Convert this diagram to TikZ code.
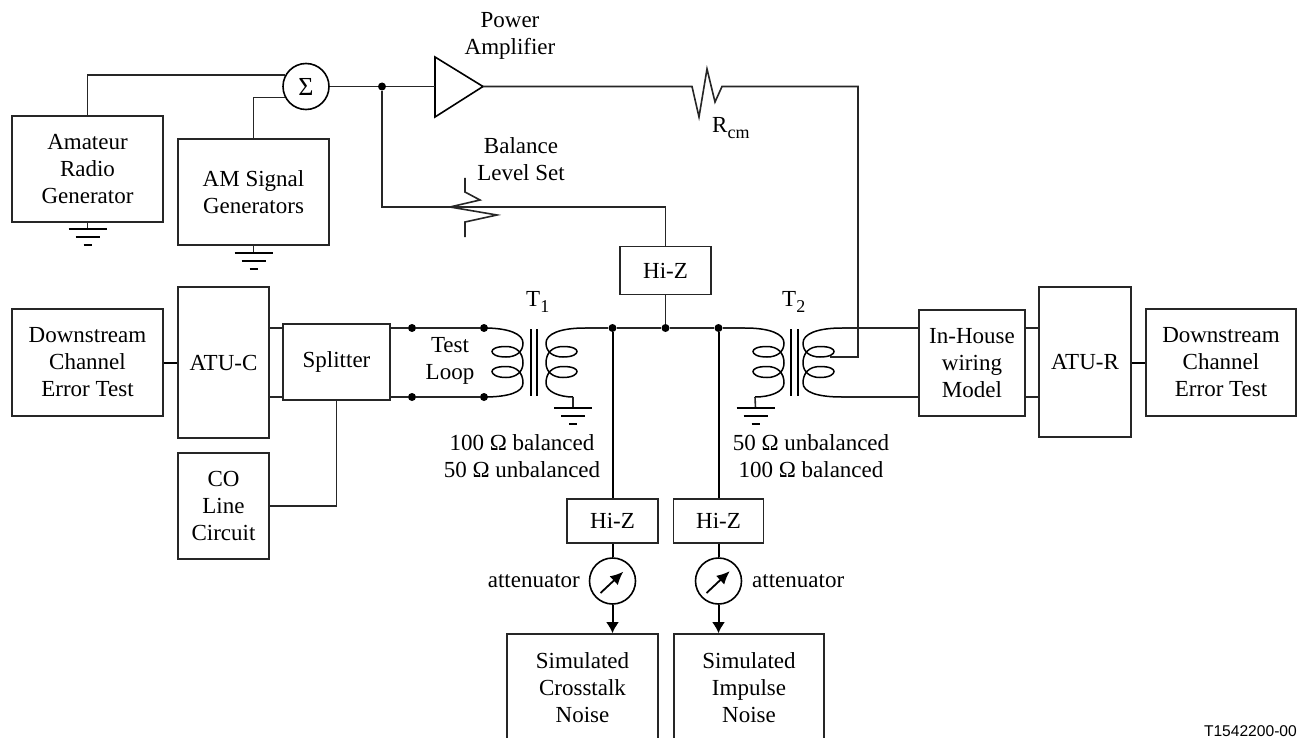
\documentclass[tikz,border=0pt]{standalone}
\usepackage{fontspec}
\setmainfont{Liberation Serif}
\newfontfamily\tagfont{Liberation Sans}
\usetikzlibrary{arrows.meta,calc}
\newcommand{\lowsub}[1]{\raisebox{-6pt}{\fontsize{18}{18}\selectfont #1}}
\tikzset{
  wire/.style={line width=1.6pt,draw=black!85},
  thickwire/.style={line width=2pt,draw=black},
  box/.style n args={2}{draw=black!85,line width=1.6pt,minimum width=#1,minimum height=#2,inner sep=0pt,align=center,anchor=center},
  lbl/.style={inner sep=0pt,align=center},
  dotn/.style={circle,fill=black,inner sep=0pt,minimum size=8pt},
  dial/.style={circle,draw=black,line width=1.6pt,inner sep=0pt,minimum size=46pt},
  pics/gnd/.style={code={
    \draw[line width=2pt] (-19,0) -- (19,0);
    \draw[line width=2pt] (-12,8) -- (12,8);
    \draw[line width=2pt] (-4,15.5) -- (4,15.5);
  }},
  pics/coil/.style={code={
    \draw[line width=1.5pt] (0,0) .. controls (25,0) and (39,6) .. (39,15)
      .. controls (39,24) and (32,29) .. (22,29)
      .. controls (12,29) and (8,26) .. (8,23.5)
      .. controls (8,21) and (12,18.5) .. (22,18.5)
      .. controls (33,18.5) and (39,25) .. (39,35)
      .. controls (39,44) and (32,49.5) .. (22,49.5)
      .. controls (12,49.5) and (8,46) .. (8,43.5)
      .. controls (8,41) and (12,38.5) .. (22,38.5)
      .. controls (33,38.5) and (39,45) .. (39,55)
      .. controls (39,64) and (25,69) .. (#1,69);
  }}
}
\begin{document}
\begin{tikzpicture}[x=1pt,y=-1pt,font=\fontsize{23}{27}\selectfont]
\useasboundingbox (0,0) rectangle (1297,738);
\clip (0,0) rectangle (1297,738);
\fill[white] (0,0) rectangle (1297,738);

% boxes
\node[box={151pt}{106pt}] (amateur) at (87.5,169) {Amateur\\Radio\\Generator};
\node[box={151pt}{106pt}] (am) at (253.5,192) {AM Signal\\Generators};
\node[box={151pt}{107pt}] (dsl) at (87.5,362.5) {Downstream\\Channel\\Error Test};
\node[box={91pt}{151pt}] (atuc) at (223.5,362.5) {ATU-C};
\node[box={107pt}{76pt}] (split) at (336.5,362) {Splitter};
\node[box={91pt}{106pt}] (co) at (223.5,506) {CO\\Line\\Circuit};
\node[box={91pt}{48pt}] (hiz) at (665.5,270.5) {Hi-Z};
\node[box={91pt}{44pt}] (hizl) at (612.5,521) {Hi-Z};
\node[box={90pt}{44pt}] (hizr) at (718.5,521) {Hi-Z};
\node[box={151pt}{108pt}] (simc) at (582.5,688) {Simulated\\Crosstalk\\Noise};
\node[box={150pt}{108pt}] (simi) at (749,688) {Simulated\\Impulse\\Noise};
\node[box={106pt}{106pt}] (inh) at (972,363) {In-House\\wiring\\Model};
\node[box={92pt}{150pt}] (atur) at (1085,362) {ATU-R};
\node[box={150pt}{107pt}] (dsr) at (1221,362.5) {Downstream\\Channel\\Error Test};

% summer, dials
\node[dial,font=\fontsize{26}{26}\selectfont] (sum) at (306,86.5) {Σ};
\node[dial] (dl) at (612.5,581) {};
\node[dial] (dr) at (718.5,581) {};

% amplifier
\coordinate (ampA) at (435,57);
\coordinate (ampB) at (435,117);
\coordinate (amptip) at (483,86.5);
\draw[wire,line join=miter,draw=black] (ampA) -- (amptip) -- (ampB) -- cycle;
\coordinate (ampin) at (435,86.5);

% dots
\node[dotn] (jsum) at (382,86.5) {};
\node[dotn] (d1) at (412,328) {};
\node[dotn] (d2) at (484,328) {};
\node[dotn] (d3) at (412,397) {};
\node[dotn] (d4) at (484,397) {};
\node[dotn] (b1) at (612.5,328) {};
\node[dotn] (b2) at (665.5,328) {};
\node[dotn] (b3) at (718.5,328) {};

% top wires
\draw[wire] (amateur.north) |- (sum.151.4);
\draw[wire] (am.north) |- (sum.208.6);
\draw[wire] (sum.east) -- (jsum) -- (ampin);

% Rcm resistor
\coordinate (rs) at (692,86.5);
\coordinate (re) at (722,86.5);
\coordinate (feed) at (858,86.5);
\coordinate (feedend) at (830,357);
\draw[wire] (amptip) -- (rs) -- (699,117) -- (707,69) -- (715,102) -- (re) -- (feed) |- (feedend);

% balance resistor
\coordinate (bal) at (382,207);
\draw[wire] (jsum) -- (bal) -- (hiz.north |- bal) -- (hiz.north);
\draw[wire,line join=miter] (465,178) -- (465,192) -- (480,200) -- (450,207) -- (497,215) -- (465,222) -- (465,237);

% left chain
\draw[thickwire] (dsl.east) -- (atuc.west);
\draw[wire] (atuc.east |- d1) -- (split.west |- d1);
\draw[wire] (atuc.east |- d3) -- (split.west |- d3);
\draw[wire] (split.east |- d1) -- (d1) -- (d2);
\draw[wire] (split.east |- d3) -- (d3) -- (d4);
\draw[wire] (split.south) |- (co.east);

% T1
\pic at (d2) {coil=0};
\pic[xscale=-1] at (585,328) {coil=12};
\draw[line width=2pt] (530.7,329) -- (530.7,396);
\draw[line width=2pt] (537.3,329) -- (537.3,396);
\coordinate (g3) at (573,408);
\draw[wire] (573,397) -- (g3);
\pic at (g3) {gnd};

% T2
\pic at (745,328) {coil=10};
\pic[xscale=-1] at (842,328) {coil=0};
\draw[line width=2pt] (790.7,329) -- (790.7,396);
\draw[line width=2pt] (798,329) -- (798,396);
\coordinate (g4) at (755.5,408);
\draw[wire] (755,397) -- (g4);
\pic at (g4) {gnd};

% bus
\coordinate (busl) at (585,328);
\coordinate (busr) at (745,328);
\draw[wire] (busl) -- (b1) -- (b2) -- (b3) -- (busr);
\draw[wire] (hiz.south) -- (b2);
\draw[thickwire] (b1) -- (hizl.north);
\draw[thickwire] (b3) -- (hizr.north);
\draw[thickwire] (hizl.south) -- (dl.north);
\draw[thickwire] (hizr.south) -- (dr.north);
\draw[thickwire,-{Latex[length=11pt,width=13pt]}] (dl.south) -- (simc.north -| dl.south);
\draw[thickwire,-{Latex[length=11pt,width=13pt]}] (dr.south) -- (simi.north -| dr.south);

% dial arrows
\draw[line width=1.8pt,-{Latex[length=13pt,width=12pt]}] ($(dl)+(-12,12)$) -- ($(dl)+(10.8,-9.3)$);
\draw[line width=1.8pt,-{Latex[length=13pt,width=12pt]}] ($(dr)+(-12,12)$) -- ($(dr)+(11.2,-9.8)$);

% right side
\draw[wire] (842,328) -- (inh.west |- 842,328);
\draw[wire] (842,397) -- (inh.west |- 842,397);
\draw[wire] (inh.east |- 842,328) -- (atur.west |- 842,328);
\draw[wire] (inh.east |- 842,397) -- (atur.west |- 842,397);
\draw[thickwire] (atur.east |- dsr.west) -- (dsr.west);

% grounds
\coordinate (g1) at (87.5,229);
\coordinate (g2) at (253.5,253);
\draw[wire] (amateur.south) -- (g1);
\draw[wire] (am.south) -- (g2);
\pic at (g1) {gnd};
\pic at (g2) {gnd};

% labels
\node[lbl] (lpa) at (510,36) {Power\\Amplifier};
\node[lbl,anchor=base west] (lr) at (712,133) {R\lowsub{cm}};
\node[lbl] (lbal) at (521,159) {Balance\\Level Set};
\node[lbl,anchor=base west] (lt1) at (526,306) {T\lowsub{1}};
\node[lbl,anchor=base west] (lt2) at (782,306) {T\lowsub{2}};
\node[lbl] (ltl) at (450,360.5) {Test\\Loop};
\node[lbl] (lo1) at (522,456) {100 Ω balanced\\50 Ω unbalanced};
\node[lbl] (lo2) at (811,456) {50 Ω unbalanced\\100 Ω balanced};
\node[lbl,anchor=east] (la1) at (580,581) {attenuator};
\node[lbl,anchor=west] (la2) at (752,581) {attenuator};
\node[lbl,anchor=base east,font=\tagfont\fontsize{15.6}{18}\selectfont] (ltag) at (1297,736) {T1542200-00};
\end{tikzpicture}
\end{document}
